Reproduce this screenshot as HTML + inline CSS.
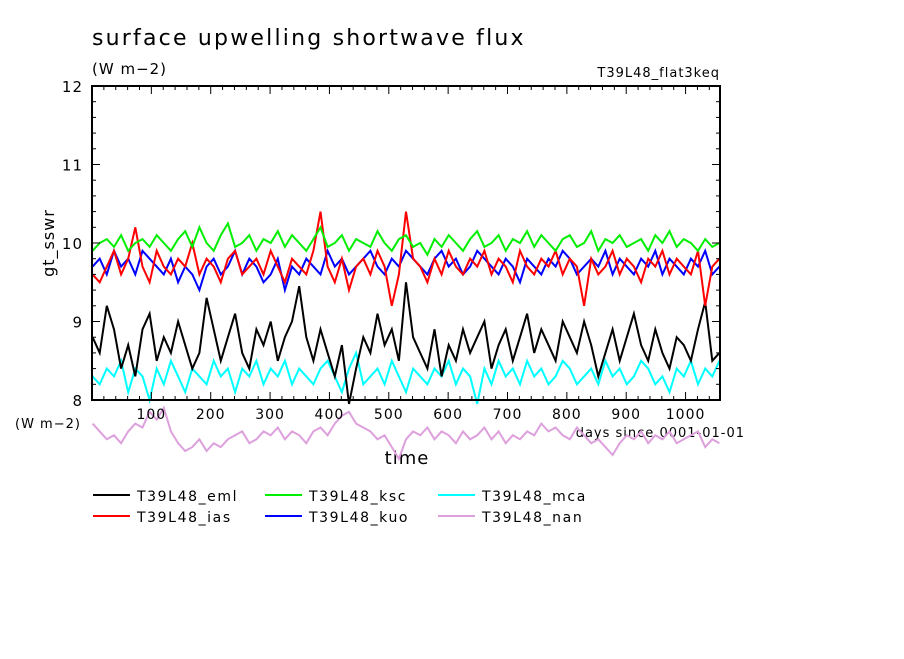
<!DOCTYPE html>
<html><head><meta charset="utf-8"><style>
body{margin:0;background:#fff}
svg text{font-family:"DejaVu Sans","Liberation Sans",sans-serif;fill:#000;letter-spacing:1px}
</style></head><body>
<svg id="c" width="904" height="654" xmlns="http://www.w3.org/2000/svg">
<rect width="904" height="654" fill="#fff"/>
<text x="92" y="45" font-size="22" style="letter-spacing:2.2px">surface upwelling shortwave flux</text>
<text x="92" y="74" font-size="15">(W m−2)</text>
<text x="720" y="77" font-size="13" text-anchor="end">T39L48_flat3keq</text>
<text transform="translate(54,243) rotate(-90)" font-size="16" text-anchor="middle">gt_sswr</text>
<text x="15" y="428" font-size="13">(W m−2)</text>
<text x="745" y="437" font-size="13" text-anchor="end">days since 0001-01-01</text>
<text x="407" y="464" font-size="18" text-anchor="middle">time</text>
<g id="series"></g>
<g id="axes"></g>
<g id="legend"></g>
</svg>
<script>
const yTicks=[8,9,10,11,12];
const xTicks=[100,200,300,400,500,600,700,800,900,1000];
const seriesNames=["T39L48_eml","T39L48_ias","T39L48_ksc","T39L48_kuo","T39L48_mca","T39L48_nan"];
const eml=[8.8,8.6,9.2,8.9,8.4,8.7,8.3,8.9,9.1,8.5,8.8,8.6,9.0,8.7,8.4,8.6,9.3,8.9,8.5,8.8,9.1,8.6,8.4,8.9,8.7,9.0,8.5,8.8,9.0,9.45,8.8,8.5,8.9,8.6,8.3,8.7,7.95,8.4,8.8,8.6,9.1,8.7,8.9,8.5,9.5,8.8,8.6,8.4,8.9,8.3,8.7,8.5,8.9,8.6,8.8,9.0,8.4,8.7,8.9,8.5,8.8,9.1,8.6,8.9,8.7,8.5,9.0,8.8,8.6,9.0,8.7,8.3,8.6,8.9,8.5,8.8,9.1,8.7,8.5,8.9,8.6,8.4,8.8,8.7,8.5,8.9,9.25,8.5,8.6];
const ias=[9.6,9.5,9.7,9.9,9.6,9.8,10.2,9.7,9.5,9.9,9.7,9.6,9.8,9.7,10.0,9.6,9.8,9.7,9.5,9.8,9.9,9.6,9.7,9.8,9.6,9.9,9.7,9.5,9.8,9.7,9.6,9.9,10.4,9.7,9.5,9.8,9.4,9.7,9.8,9.6,9.9,9.7,9.2,9.6,10.4,9.8,9.7,9.5,9.8,9.6,9.9,9.7,9.6,9.8,9.7,9.9,9.6,9.8,9.7,9.5,9.9,9.7,9.6,9.8,9.7,9.9,9.6,9.8,9.7,9.2,9.8,9.6,9.7,9.9,9.6,9.8,9.7,9.5,9.8,9.7,9.9,9.6,9.8,9.7,9.6,9.9,9.2,9.7,9.8];
const ksc=[9.9,10.0,10.05,9.95,10.1,9.9,10.0,10.05,9.95,10.1,10.0,9.9,10.05,10.15,9.95,10.2,10.0,9.9,10.1,10.25,9.95,10.0,10.1,9.9,10.05,10.0,10.15,9.95,10.1,10.0,9.9,10.05,10.2,9.95,10.0,10.1,9.9,10.05,10.0,9.95,10.15,10.0,9.9,10.05,10.1,9.95,10.0,9.85,10.05,9.95,10.1,10.0,9.9,10.05,10.15,9.95,10.0,10.1,9.9,10.05,10.0,10.15,9.95,10.1,10.0,9.9,10.05,10.1,9.95,10.0,10.15,9.9,10.05,10.0,10.1,9.95,10.0,10.05,9.9,10.1,10.0,10.15,9.95,10.05,10.0,9.9,10.05,9.95,10.0];
const kuo=[9.7,9.8,9.6,9.9,9.7,9.8,9.6,9.9,9.8,9.7,9.6,9.8,9.5,9.7,9.6,9.4,9.7,9.8,9.6,9.7,9.9,9.6,9.8,9.7,9.5,9.6,9.8,9.4,9.7,9.6,9.8,9.7,9.6,9.9,9.7,9.8,9.6,9.7,9.8,9.9,9.7,9.6,9.8,9.7,9.9,9.8,9.7,9.6,9.8,9.9,9.7,9.8,9.6,9.7,9.9,9.8,9.7,9.6,9.8,9.7,9.5,9.8,9.7,9.6,9.8,9.7,9.9,9.8,9.6,9.7,9.8,9.7,9.9,9.6,9.8,9.7,9.6,9.8,9.7,9.9,9.6,9.8,9.7,9.6,9.8,9.7,9.9,9.6,9.7];
const mca=[8.3,8.2,8.4,8.3,8.5,8.1,8.4,8.3,8.0,8.4,8.2,8.5,8.3,8.1,8.4,8.3,8.2,8.5,8.3,8.4,8.1,8.4,8.3,8.5,8.2,8.4,8.3,8.5,8.2,8.4,8.3,8.2,8.4,8.5,8.3,8.1,8.4,8.6,8.2,8.3,8.4,8.2,8.5,8.3,8.1,8.4,8.3,8.2,8.4,8.3,8.5,8.2,8.4,8.3,7.95,8.4,8.2,8.5,8.3,8.4,8.2,8.5,8.3,8.4,8.2,8.3,8.5,8.4,8.2,8.3,8.4,8.2,8.5,8.3,8.4,8.2,8.3,8.5,8.4,8.2,8.3,8.1,8.4,8.3,8.5,8.2,8.4,8.3,8.5];
const nan=[7.7,7.6,7.5,7.55,7.45,7.6,7.7,7.65,7.85,7.75,7.9,7.6,7.45,7.35,7.4,7.5,7.35,7.45,7.4,7.5,7.55,7.6,7.45,7.5,7.6,7.55,7.65,7.5,7.6,7.55,7.45,7.6,7.65,7.55,7.7,7.8,7.85,7.7,7.65,7.6,7.5,7.55,7.4,7.25,7.5,7.6,7.55,7.65,7.5,7.6,7.55,7.45,7.6,7.5,7.55,7.65,7.5,7.6,7.45,7.55,7.5,7.6,7.55,7.7,7.6,7.65,7.55,7.5,7.65,7.55,7.45,7.5,7.4,7.3,7.45,7.55,7.5,7.6,7.45,7.55,7.5,7.6,7.45,7.5,7.55,7.6,7.4,7.5,7.45];
const seriesData=[eml,ias,ksc,kuo,mca,nan];
const colors=["#000000","#ff0000","#00ee00","#0000ff","#00ffff","#dda0dd"];
const X0=92,X1=720,Y0=86,Y1=400,XMIN=0,XMAX=1058,YMIN=8,YMAX=12;
const xs=d=>X0+(d-XMIN)/(XMAX-XMIN)*(X1-X0);
const ys=v=>Y1-(v-YMIN)/(YMAX-YMIN)*(Y1-Y0);
const NS="http://www.w3.org/2000/svg";
function mk(t,a,p){const e=document.createElementNS(NS,t);for(const k in a)e.setAttribute(k,a[k]);p.appendChild(e);return e;}
const sg=document.getElementById('series');
const order=[5,4,0,3,1,2];
order.forEach(si=>{
  const d=seriesData[si],n=d.length,span=1056;
  const pts=d.map((v,i)=>xs(1+i*span/(n-1)).toFixed(1)+","+ys(v).toFixed(1)).join(" ");
  const pl=mk('polyline',{points:pts,fill:'none',stroke:colors[si],'stroke-width':2},sg);
  
  
});
const ag=document.getElementById('axes');
const fr=mk('rect',{x:X0,y:Y0,width:X1-X0,height:Y1-Y0,fill:'none',stroke:'#000','stroke-width':2},ag);


for(let v=8;v<=12.001;v+=0.2){const y=ys(v);const maj=Math.abs(v-Math.round(v))<1e-6;const L=maj?8:4;
  mk('line',{x1:X0,x2:X0+L,y1:y,y2:y,stroke:'#000','stroke-width':1},ag);
  mk('line',{x1:X1,x2:X1-L,y1:y,y2:y,stroke:'#000','stroke-width':1},ag);}
yTicks.forEach(v=>{const t=mk('text',{x:83,y:ys(v)+6,'font-size':15,'text-anchor':'end'},ag);t.textContent=v;
  
  });
for(let d=20;d<XMAX;d+=20){const x=xs(d);const maj=d%100===0;const L=maj?8:4;
  mk('line',{x1:x,x2:x,y1:Y1,y2:Y1-L,stroke:'#000','stroke-width':1},ag);
  mk('line',{x1:x,x2:x,y1:Y0,y2:Y0+L,stroke:'#000','stroke-width':1},ag);}
xTicks.forEach(d=>{const t=mk('text',{x:xs(d),y:419,'font-size':14,'text-anchor':'middle'},ag);t.textContent=d;
  
  });
const lg=document.getElementById('legend');
const lx=[93,265,438],ly=[495,516];
[0,2,4,1,3,5].forEach((si,k)=>{const c=k%3,r=Math.floor(k/3);
  const g=mk('g',{},lg);
  
  
  mk('line',{x1:lx[c],x2:lx[c]+37,y1:ly[r],y2:ly[r],stroke:colors[si],'stroke-width':2},g);
  const t=mk('text',{x:lx[c]+44,y:ly[r]+6,'font-size':14,style:'letter-spacing:1.6px'},g);t.textContent=seriesNames[si];});
</script>
</body></html>
